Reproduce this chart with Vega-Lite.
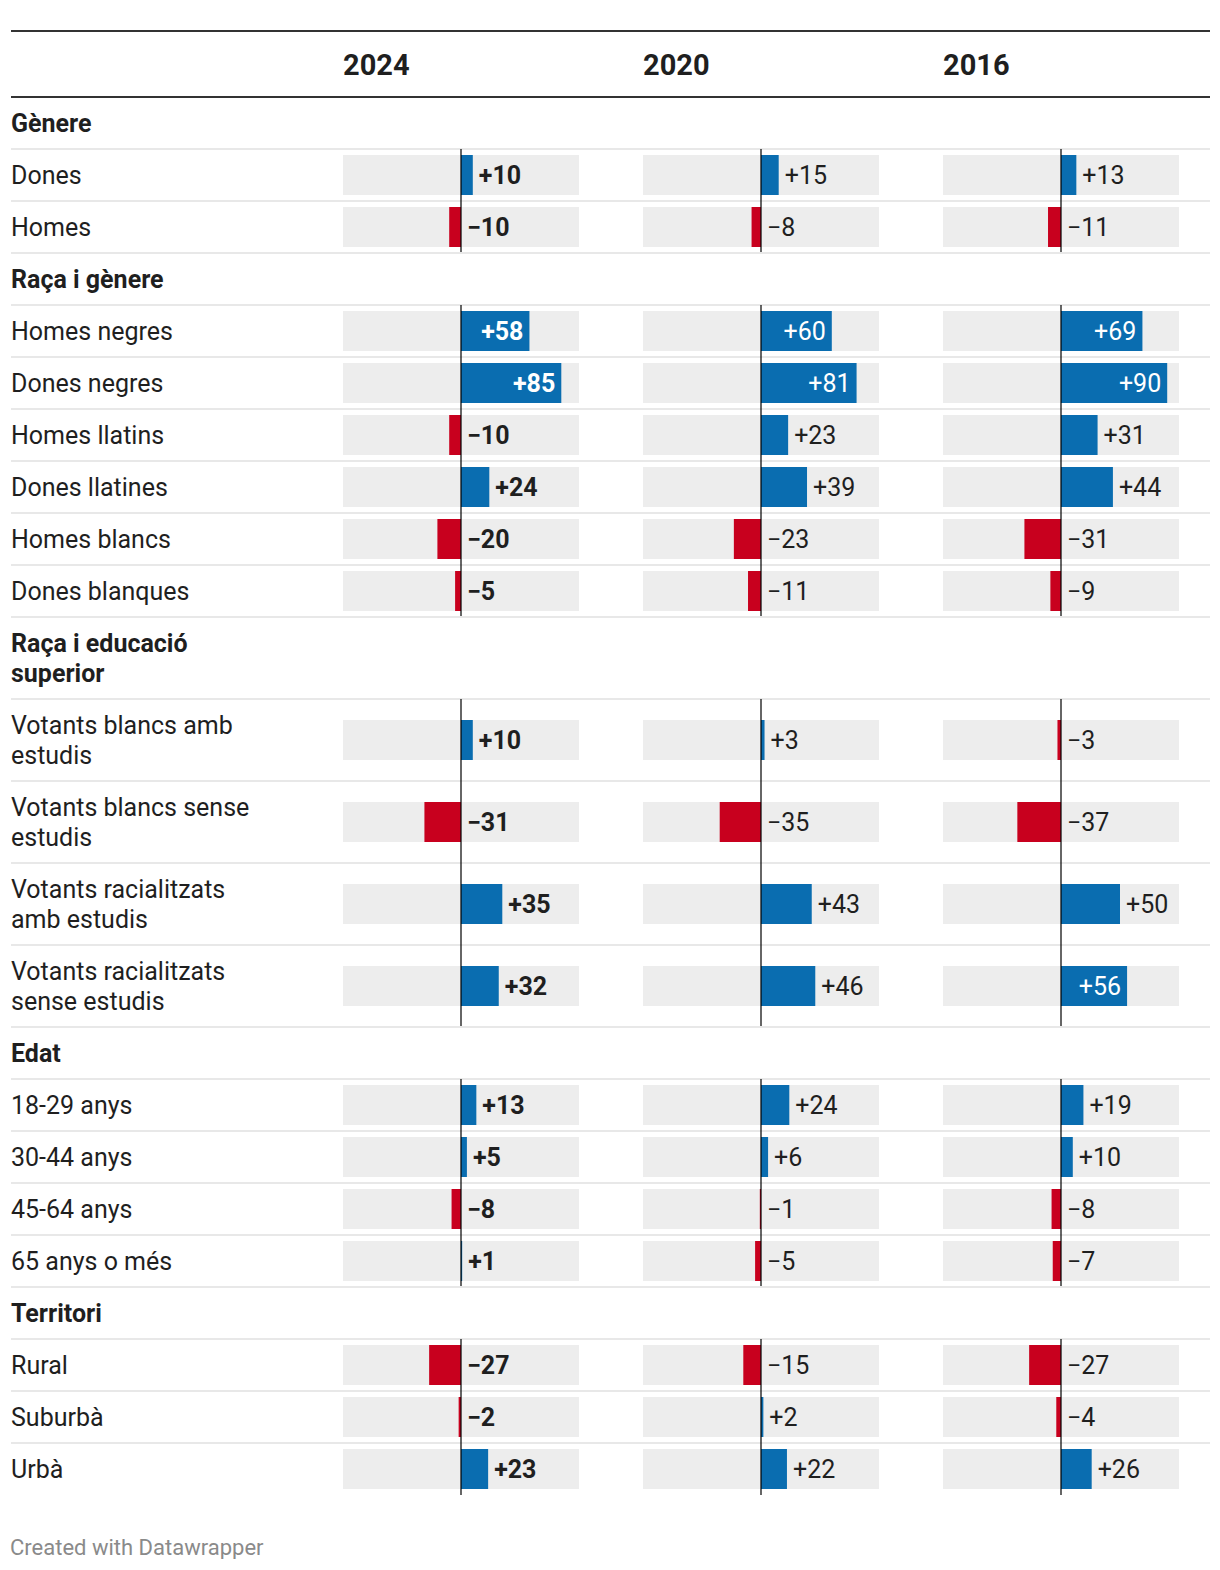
{
"$schema":"https://vega.github.io/schema/vega-lite/v6.json",
"padding":{"left":10,"top":30,"right":0,"bottom":0},
"bounds":"flush",
"spacing":0,
"columns":4,
"datasets":{
"t":[
{"s":1,"i":0,"h":true,"label":"Gènere"},
{"s":1,"i":1,"h":false,"label":"Dones","v24":10,"v20":15,"v16":13},
{"s":1,"i":2,"h":false,"label":"Homes","v24":-10,"v20":-8,"v16":-11},
{"s":2,"i":0,"h":true,"label":"Raça i gènere"},
{"s":2,"i":1,"h":false,"label":"Homes negres","v24":58,"v20":60,"v16":69},
{"s":2,"i":2,"h":false,"label":"Dones negres","v24":85,"v20":81,"v16":90},
{"s":2,"i":3,"h":false,"label":"Homes llatins","v24":-10,"v20":23,"v16":31},
{"s":2,"i":4,"h":false,"label":"Dones llatines","v24":24,"v20":39,"v16":44},
{"s":2,"i":5,"h":false,"label":"Homes blancs","v24":-20,"v20":-23,"v16":-31},
{"s":2,"i":6,"h":false,"label":"Dones blanques","v24":-5,"v20":-11,"v16":-9},
{"s":3,"i":0,"h":true,"label":"Raça i educació\nsuperior"},
{"s":3,"i":1,"h":false,"label":"Votants blancs amb\nestudis","v24":10,"v20":3,"v16":-3},
{"s":3,"i":2,"h":false,"label":"Votants blancs sense\nestudis","v24":-31,"v20":-35,"v16":-37},
{"s":3,"i":3,"h":false,"label":"Votants racialitzats\namb estudis","v24":35,"v20":43,"v16":50},
{"s":3,"i":4,"h":false,"label":"Votants racialitzats\nsense estudis","v24":32,"v20":46,"v16":56},
{"s":4,"i":0,"h":true,"label":"Edat"},
{"s":4,"i":1,"h":false,"label":"18-29 anys","v24":13,"v20":24,"v16":19},
{"s":4,"i":2,"h":false,"label":"30-44 anys","v24":5,"v20":6,"v16":10},
{"s":4,"i":3,"h":false,"label":"45-64 anys","v24":-8,"v20":-1,"v16":-8},
{"s":4,"i":4,"h":false,"label":"65 anys o més","v24":1,"v20":-5,"v16":-7},
{"s":5,"i":0,"h":true,"label":"Territori"},
{"s":5,"i":1,"h":false,"label":"Rural","v24":-27,"v20":-15,"v16":-27},
{"s":5,"i":2,"h":false,"label":"Suburbà","v24":-2,"v20":2,"v16":-4},
{"s":5,"i":3,"h":false,"label":"Urbà","v24":23,"v20":22,"v16":26}
],
"yrs":[{"year":"2024"},{"year":"2020"},{"year":"2016"}]
},
"title":{"text":"Created with Datawrapper","orient":"bottom","anchor":"start","fontSize":22,"fontWeight":"normal","color":"#8a8a8a","font":"Roboto","offset":43,"baseline":"top"},
"concat":[
{"width":332,"height":66,"data":{"name":"yrs"},"transform":[{"filter":"datum.year=='2024'"}],"layer":[
{"mark":{"type":"rule","color":"#333333","strokeWidth":2},"encoding":{"y":{"datum":1,"type":"quantitative","scale":{"domain":[0,1]},"axis":null}}},
{"mark":{"type":"rule","color":"#333333","strokeWidth":2},"encoding":{"y":{"datum":0,"type":"quantitative","axis":null}}}]},
{"width":300,"height":66,"data":{"name":"yrs"},"transform":[{"filter":"datum.year=='2024'"}],"layer":[
{"mark":{"type":"rule","color":"#333333","strokeWidth":2},"encoding":{"y":{"datum":1,"type":"quantitative","scale":{"domain":[0,1]},"axis":null}}},
{"mark":{"type":"rule","color":"#333333","strokeWidth":2},"encoding":{"y":{"datum":0,"type":"quantitative","axis":null}}},
{"mark":{"type":"text","align":"left","fontWeight":"bold","fontSize":29,"dy":2},"encoding":{"x":{"datum":-100,"type":"quantitative","scale":{"domain":[-100,100],"range":[0,236]},"axis":null},"y":{"datum":0.5,"type":"quantitative","axis":null},"text":{"field":"year"}}}]},
{"width":300,"height":66,"data":{"name":"yrs"},"transform":[{"filter":"datum.year=='2020'"}],"layer":[
{"mark":{"type":"rule","color":"#333333","strokeWidth":2},"encoding":{"y":{"datum":1,"type":"quantitative","scale":{"domain":[0,1]},"axis":null}}},
{"mark":{"type":"rule","color":"#333333","strokeWidth":2},"encoding":{"y":{"datum":0,"type":"quantitative","axis":null}}},
{"mark":{"type":"text","align":"left","fontWeight":"bold","fontSize":29,"dy":2},"encoding":{"x":{"datum":-100,"type":"quantitative","scale":{"domain":[-100,100],"range":[0,236]},"axis":null},"y":{"datum":0.5,"type":"quantitative","axis":null},"text":{"field":"year"}}}]},
{"width":267,"height":66,"data":{"name":"yrs"},"transform":[{"filter":"datum.year=='2016'"}],"layer":[
{"mark":{"type":"rule","color":"#333333","strokeWidth":2},"encoding":{"y":{"datum":1,"type":"quantitative","scale":{"domain":[0,1]},"axis":null}}},
{"mark":{"type":"rule","color":"#333333","strokeWidth":2},"encoding":{"y":{"datum":0,"type":"quantitative","axis":null}}},
{"mark":{"type":"text","align":"left","fontWeight":"bold","fontSize":29,"dy":2},"encoding":{"x":{"datum":-100,"type":"quantitative","scale":{"domain":[-100,100],"range":[0,236]},"axis":null},"y":{"datum":0.5,"type":"quantitative","axis":null},"text":{"field":"year"}}}]},

{"width":332,"height":156,"data":{"name":"t"},"transform":[{"filter":"datum.s==1"}],"encoding":{"y":{"field":"i","type":"ordinal","scale":{"type":"band","paddingInner":0,"paddingOuter":0},"axis":null}},"layer":[
{"mark":{"type":"rule","color":"#e8e8e8","strokeWidth":2},"encoding":{"y":{"field":"i","type":"ordinal","bandPosition":0,"scale":{"type":"band","paddingInner":0,"paddingOuter":0},"axis":null},"strokeOpacity":{"condition":{"test":"datum.s==1&&datum.i==0","value":0},"value":1}}},
{"transform":[{"filter":"datum.h"}],"mark":{"type":"text","align":"left","fontWeight":"bold","lineBreak":"\n","lineHeight":30},"encoding":{"x":{"datum":0,"type":"quantitative","scale":{"domain":[0,1]},"axis":null},"text":{"field":"label"}}},
{"transform":[{"filter":"!datum.h"}],"mark":{"type":"text","align":"left","lineBreak":"\n","lineHeight":30},"encoding":{"x":{"datum":0,"type":"quantitative","axis":null},"text":{"field":"label"}}}]},
{"width":300,"height":156,"data":{"name":"t"},"transform":[{"filter":"datum.s==1"}],"encoding":{"y":{"field":"i","type":"ordinal","scale":{"type":"band","paddingInner":0,"paddingOuter":0},"axis":null}},"layer":[
{"mark":{"type":"rule","color":"#e8e8e8","strokeWidth":2},"encoding":{"y":{"field":"i","type":"ordinal","bandPosition":0,"scale":{"type":"band","paddingInner":0,"paddingOuter":0},"axis":null},"strokeOpacity":{"condition":{"test":"datum.s==1&&datum.i==0","value":0},"value":1}}},
{"transform":[{"filter":"!datum.h"}],"mark":{"type":"bar","color":"#ededed","height":40},"encoding":{"x":{"datum":-100,"type":"quantitative","scale":{"domain":[-100,100],"range":[0,236]},"axis":null},"x2":{"datum":100}}},
{"transform":[{"filter":"!datum.h"}],"mark":{"type":"bar","height":40},"encoding":{"x":{"field":"v24","type":"quantitative","axis":null},"color":{"condition":{"test":"datum.v24>0","value":"#0a6db0"},"value":"#c8001e"}}},
{"transform":[{"filter":"!datum.h"}],"mark":{"type":"tick","orient":"vertical","color":"#000000","opacity":0.6,"thickness":2,"size":52},"encoding":{"x":{"datum":0,"type":"quantitative","axis":null}}},
{"transform":[{"filter":"datum.v24>52"}],"mark":{"type":"text","align":"right","dx":-6,"color":"#ffffff","fontWeight":"bold"},"encoding":{"x":{"field":"v24","type":"quantitative","axis":null},"text":{"field":"v24","type":"quantitative","format":"+d"}}},
{"transform":[{"filter":"datum.v24>0&&datum.v24<=52"}],"mark":{"type":"text","align":"left","dx":6,"fontWeight":"bold"},"encoding":{"x":{"field":"v24","type":"quantitative","axis":null},"text":{"field":"v24","type":"quantitative","format":"+d"}}},
{"transform":[{"filter":"datum.v24<=0"}],"mark":{"type":"text","align":"left","dx":6,"fontWeight":"bold"},"encoding":{"x":{"datum":0,"type":"quantitative","axis":null},"text":{"field":"v24","type":"quantitative","format":"+d"}}}]},
{"width":300,"height":156,"data":{"name":"t"},"transform":[{"filter":"datum.s==1"}],"encoding":{"y":{"field":"i","type":"ordinal","scale":{"type":"band","paddingInner":0,"paddingOuter":0},"axis":null}},"layer":[
{"mark":{"type":"rule","color":"#e8e8e8","strokeWidth":2},"encoding":{"y":{"field":"i","type":"ordinal","bandPosition":0,"scale":{"type":"band","paddingInner":0,"paddingOuter":0},"axis":null},"strokeOpacity":{"condition":{"test":"datum.s==1&&datum.i==0","value":0},"value":1}}},
{"transform":[{"filter":"!datum.h"}],"mark":{"type":"bar","color":"#ededed","height":40},"encoding":{"x":{"datum":-100,"type":"quantitative","scale":{"domain":[-100,100],"range":[0,236]},"axis":null},"x2":{"datum":100}}},
{"transform":[{"filter":"!datum.h"}],"mark":{"type":"bar","height":40},"encoding":{"x":{"field":"v20","type":"quantitative","axis":null},"color":{"condition":{"test":"datum.v20>0","value":"#0a6db0"},"value":"#c8001e"}}},
{"transform":[{"filter":"!datum.h"}],"mark":{"type":"tick","orient":"vertical","color":"#000000","opacity":0.6,"thickness":2,"size":52},"encoding":{"x":{"datum":0,"type":"quantitative","axis":null}}},
{"transform":[{"filter":"datum.v20>52"}],"mark":{"type":"text","align":"right","dx":-6,"color":"#ffffff"},"encoding":{"x":{"field":"v20","type":"quantitative","axis":null},"text":{"field":"v20","type":"quantitative","format":"+d"}}},
{"transform":[{"filter":"datum.v20>0&&datum.v20<=52"}],"mark":{"type":"text","align":"left","dx":6},"encoding":{"x":{"field":"v20","type":"quantitative","axis":null},"text":{"field":"v20","type":"quantitative","format":"+d"}}},
{"transform":[{"filter":"datum.v20<=0"}],"mark":{"type":"text","align":"left","dx":6},"encoding":{"x":{"datum":0,"type":"quantitative","axis":null},"text":{"field":"v20","type":"quantitative","format":"+d"}}}]},
{"width":267,"height":156,"data":{"name":"t"},"transform":[{"filter":"datum.s==1"}],"encoding":{"y":{"field":"i","type":"ordinal","scale":{"type":"band","paddingInner":0,"paddingOuter":0},"axis":null}},"layer":[
{"mark":{"type":"rule","color":"#e8e8e8","strokeWidth":2},"encoding":{"y":{"field":"i","type":"ordinal","bandPosition":0,"scale":{"type":"band","paddingInner":0,"paddingOuter":0},"axis":null},"strokeOpacity":{"condition":{"test":"datum.s==1&&datum.i==0","value":0},"value":1}}},
{"transform":[{"filter":"!datum.h"}],"mark":{"type":"bar","color":"#ededed","height":40},"encoding":{"x":{"datum":-100,"type":"quantitative","scale":{"domain":[-100,100],"range":[0,236]},"axis":null},"x2":{"datum":100}}},
{"transform":[{"filter":"!datum.h"}],"mark":{"type":"bar","height":40},"encoding":{"x":{"field":"v16","type":"quantitative","axis":null},"color":{"condition":{"test":"datum.v16>0","value":"#0a6db0"},"value":"#c8001e"}}},
{"transform":[{"filter":"!datum.h"}],"mark":{"type":"tick","orient":"vertical","color":"#000000","opacity":0.6,"thickness":2,"size":52},"encoding":{"x":{"datum":0,"type":"quantitative","axis":null}}},
{"transform":[{"filter":"datum.v16>52"}],"mark":{"type":"text","align":"right","dx":-6,"color":"#ffffff"},"encoding":{"x":{"field":"v16","type":"quantitative","axis":null},"text":{"field":"v16","type":"quantitative","format":"+d"}}},
{"transform":[{"filter":"datum.v16>0&&datum.v16<=52"}],"mark":{"type":"text","align":"left","dx":6},"encoding":{"x":{"field":"v16","type":"quantitative","axis":null},"text":{"field":"v16","type":"quantitative","format":"+d"}}},
{"transform":[{"filter":"datum.v16<=0"}],"mark":{"type":"text","align":"left","dx":6},"encoding":{"x":{"datum":0,"type":"quantitative","axis":null},"text":{"field":"v16","type":"quantitative","format":"+d"}}}]},

{"width":332,"height":364,"data":{"name":"t"},"transform":[{"filter":"datum.s==2"}],"encoding":{"y":{"field":"i","type":"ordinal","scale":{"type":"band","paddingInner":0,"paddingOuter":0},"axis":null}},"layer":[
{"mark":{"type":"rule","color":"#e8e8e8","strokeWidth":2},"encoding":{"y":{"field":"i","type":"ordinal","bandPosition":0,"scale":{"type":"band","paddingInner":0,"paddingOuter":0},"axis":null},"strokeOpacity":{"condition":{"test":"datum.s==1&&datum.i==0","value":0},"value":1}}},
{"transform":[{"filter":"datum.h"}],"mark":{"type":"text","align":"left","fontWeight":"bold","lineBreak":"\n","lineHeight":30},"encoding":{"x":{"datum":0,"type":"quantitative","scale":{"domain":[0,1]},"axis":null},"text":{"field":"label"}}},
{"transform":[{"filter":"!datum.h"}],"mark":{"type":"text","align":"left","lineBreak":"\n","lineHeight":30},"encoding":{"x":{"datum":0,"type":"quantitative","axis":null},"text":{"field":"label"}}}]},
{"width":300,"height":364,"data":{"name":"t"},"transform":[{"filter":"datum.s==2"}],"encoding":{"y":{"field":"i","type":"ordinal","scale":{"type":"band","paddingInner":0,"paddingOuter":0},"axis":null}},"layer":[
{"mark":{"type":"rule","color":"#e8e8e8","strokeWidth":2},"encoding":{"y":{"field":"i","type":"ordinal","bandPosition":0,"scale":{"type":"band","paddingInner":0,"paddingOuter":0},"axis":null},"strokeOpacity":{"condition":{"test":"datum.s==1&&datum.i==0","value":0},"value":1}}},
{"transform":[{"filter":"!datum.h"}],"mark":{"type":"bar","color":"#ededed","height":40},"encoding":{"x":{"datum":-100,"type":"quantitative","scale":{"domain":[-100,100],"range":[0,236]},"axis":null},"x2":{"datum":100}}},
{"transform":[{"filter":"!datum.h"}],"mark":{"type":"bar","height":40},"encoding":{"x":{"field":"v24","type":"quantitative","axis":null},"color":{"condition":{"test":"datum.v24>0","value":"#0a6db0"},"value":"#c8001e"}}},
{"transform":[{"filter":"!datum.h"}],"mark":{"type":"tick","orient":"vertical","color":"#000000","opacity":0.6,"thickness":2,"size":52},"encoding":{"x":{"datum":0,"type":"quantitative","axis":null}}},
{"transform":[{"filter":"datum.v24>52"}],"mark":{"type":"text","align":"right","dx":-6,"color":"#ffffff","fontWeight":"bold"},"encoding":{"x":{"field":"v24","type":"quantitative","axis":null},"text":{"field":"v24","type":"quantitative","format":"+d"}}},
{"transform":[{"filter":"datum.v24>0&&datum.v24<=52"}],"mark":{"type":"text","align":"left","dx":6,"fontWeight":"bold"},"encoding":{"x":{"field":"v24","type":"quantitative","axis":null},"text":{"field":"v24","type":"quantitative","format":"+d"}}},
{"transform":[{"filter":"datum.v24<=0"}],"mark":{"type":"text","align":"left","dx":6,"fontWeight":"bold"},"encoding":{"x":{"datum":0,"type":"quantitative","axis":null},"text":{"field":"v24","type":"quantitative","format":"+d"}}}]},
{"width":300,"height":364,"data":{"name":"t"},"transform":[{"filter":"datum.s==2"}],"encoding":{"y":{"field":"i","type":"ordinal","scale":{"type":"band","paddingInner":0,"paddingOuter":0},"axis":null}},"layer":[
{"mark":{"type":"rule","color":"#e8e8e8","strokeWidth":2},"encoding":{"y":{"field":"i","type":"ordinal","bandPosition":0,"scale":{"type":"band","paddingInner":0,"paddingOuter":0},"axis":null},"strokeOpacity":{"condition":{"test":"datum.s==1&&datum.i==0","value":0},"value":1}}},
{"transform":[{"filter":"!datum.h"}],"mark":{"type":"bar","color":"#ededed","height":40},"encoding":{"x":{"datum":-100,"type":"quantitative","scale":{"domain":[-100,100],"range":[0,236]},"axis":null},"x2":{"datum":100}}},
{"transform":[{"filter":"!datum.h"}],"mark":{"type":"bar","height":40},"encoding":{"x":{"field":"v20","type":"quantitative","axis":null},"color":{"condition":{"test":"datum.v20>0","value":"#0a6db0"},"value":"#c8001e"}}},
{"transform":[{"filter":"!datum.h"}],"mark":{"type":"tick","orient":"vertical","color":"#000000","opacity":0.6,"thickness":2,"size":52},"encoding":{"x":{"datum":0,"type":"quantitative","axis":null}}},
{"transform":[{"filter":"datum.v20>52"}],"mark":{"type":"text","align":"right","dx":-6,"color":"#ffffff"},"encoding":{"x":{"field":"v20","type":"quantitative","axis":null},"text":{"field":"v20","type":"quantitative","format":"+d"}}},
{"transform":[{"filter":"datum.v20>0&&datum.v20<=52"}],"mark":{"type":"text","align":"left","dx":6},"encoding":{"x":{"field":"v20","type":"quantitative","axis":null},"text":{"field":"v20","type":"quantitative","format":"+d"}}},
{"transform":[{"filter":"datum.v20<=0"}],"mark":{"type":"text","align":"left","dx":6},"encoding":{"x":{"datum":0,"type":"quantitative","axis":null},"text":{"field":"v20","type":"quantitative","format":"+d"}}}]},
{"width":267,"height":364,"data":{"name":"t"},"transform":[{"filter":"datum.s==2"}],"encoding":{"y":{"field":"i","type":"ordinal","scale":{"type":"band","paddingInner":0,"paddingOuter":0},"axis":null}},"layer":[
{"mark":{"type":"rule","color":"#e8e8e8","strokeWidth":2},"encoding":{"y":{"field":"i","type":"ordinal","bandPosition":0,"scale":{"type":"band","paddingInner":0,"paddingOuter":0},"axis":null},"strokeOpacity":{"condition":{"test":"datum.s==1&&datum.i==0","value":0},"value":1}}},
{"transform":[{"filter":"!datum.h"}],"mark":{"type":"bar","color":"#ededed","height":40},"encoding":{"x":{"datum":-100,"type":"quantitative","scale":{"domain":[-100,100],"range":[0,236]},"axis":null},"x2":{"datum":100}}},
{"transform":[{"filter":"!datum.h"}],"mark":{"type":"bar","height":40},"encoding":{"x":{"field":"v16","type":"quantitative","axis":null},"color":{"condition":{"test":"datum.v16>0","value":"#0a6db0"},"value":"#c8001e"}}},
{"transform":[{"filter":"!datum.h"}],"mark":{"type":"tick","orient":"vertical","color":"#000000","opacity":0.6,"thickness":2,"size":52},"encoding":{"x":{"datum":0,"type":"quantitative","axis":null}}},
{"transform":[{"filter":"datum.v16>52"}],"mark":{"type":"text","align":"right","dx":-6,"color":"#ffffff"},"encoding":{"x":{"field":"v16","type":"quantitative","axis":null},"text":{"field":"v16","type":"quantitative","format":"+d"}}},
{"transform":[{"filter":"datum.v16>0&&datum.v16<=52"}],"mark":{"type":"text","align":"left","dx":6},"encoding":{"x":{"field":"v16","type":"quantitative","axis":null},"text":{"field":"v16","type":"quantitative","format":"+d"}}},
{"transform":[{"filter":"datum.v16<=0"}],"mark":{"type":"text","align":"left","dx":6},"encoding":{"x":{"datum":0,"type":"quantitative","axis":null},"text":{"field":"v16","type":"quantitative","format":"+d"}}}]},

{"width":332,"height":410,"data":{"name":"t"},"transform":[{"filter":"datum.s==3"}],"encoding":{"y":{"field":"i","type":"ordinal","scale":{"type":"band","paddingInner":0,"paddingOuter":0},"axis":null}},"layer":[
{"mark":{"type":"rule","color":"#e8e8e8","strokeWidth":2},"encoding":{"y":{"field":"i","type":"ordinal","bandPosition":0,"scale":{"type":"band","paddingInner":0,"paddingOuter":0},"axis":null},"strokeOpacity":{"condition":{"test":"datum.s==1&&datum.i==0","value":0},"value":1}}},
{"transform":[{"filter":"datum.h"}],"mark":{"type":"text","align":"left","fontWeight":"bold","lineBreak":"\n","lineHeight":30,"dy":-14},"encoding":{"x":{"datum":0,"type":"quantitative","scale":{"domain":[0,1]},"axis":null},"text":{"field":"label"}}},
{"transform":[{"filter":"!datum.h"}],"mark":{"type":"text","align":"left","lineBreak":"\n","lineHeight":30,"dy":-14},"encoding":{"x":{"datum":0,"type":"quantitative","axis":null},"text":{"field":"label"}}}]},
{"width":300,"height":410,"data":{"name":"t"},"transform":[{"filter":"datum.s==3"}],"encoding":{"y":{"field":"i","type":"ordinal","scale":{"type":"band","paddingInner":0,"paddingOuter":0},"axis":null}},"layer":[
{"mark":{"type":"rule","color":"#e8e8e8","strokeWidth":2},"encoding":{"y":{"field":"i","type":"ordinal","bandPosition":0,"scale":{"type":"band","paddingInner":0,"paddingOuter":0},"axis":null},"strokeOpacity":{"condition":{"test":"datum.s==1&&datum.i==0","value":0},"value":1}}},
{"transform":[{"filter":"!datum.h"}],"mark":{"type":"bar","color":"#ededed","height":40},"encoding":{"x":{"datum":-100,"type":"quantitative","scale":{"domain":[-100,100],"range":[0,236]},"axis":null},"x2":{"datum":100}}},
{"transform":[{"filter":"!datum.h"}],"mark":{"type":"bar","height":40},"encoding":{"x":{"field":"v24","type":"quantitative","axis":null},"color":{"condition":{"test":"datum.v24>0","value":"#0a6db0"},"value":"#c8001e"}}},
{"transform":[{"filter":"!datum.h"}],"mark":{"type":"tick","orient":"vertical","color":"#000000","opacity":0.6,"thickness":2,"size":82},"encoding":{"x":{"datum":0,"type":"quantitative","axis":null}}},
{"transform":[{"filter":"datum.v24>52"}],"mark":{"type":"text","align":"right","dx":-6,"color":"#ffffff","fontWeight":"bold"},"encoding":{"x":{"field":"v24","type":"quantitative","axis":null},"text":{"field":"v24","type":"quantitative","format":"+d"}}},
{"transform":[{"filter":"datum.v24>0&&datum.v24<=52"}],"mark":{"type":"text","align":"left","dx":6,"fontWeight":"bold"},"encoding":{"x":{"field":"v24","type":"quantitative","axis":null},"text":{"field":"v24","type":"quantitative","format":"+d"}}},
{"transform":[{"filter":"datum.v24<=0"}],"mark":{"type":"text","align":"left","dx":6,"fontWeight":"bold"},"encoding":{"x":{"datum":0,"type":"quantitative","axis":null},"text":{"field":"v24","type":"quantitative","format":"+d"}}}]},
{"width":300,"height":410,"data":{"name":"t"},"transform":[{"filter":"datum.s==3"}],"encoding":{"y":{"field":"i","type":"ordinal","scale":{"type":"band","paddingInner":0,"paddingOuter":0},"axis":null}},"layer":[
{"mark":{"type":"rule","color":"#e8e8e8","strokeWidth":2},"encoding":{"y":{"field":"i","type":"ordinal","bandPosition":0,"scale":{"type":"band","paddingInner":0,"paddingOuter":0},"axis":null},"strokeOpacity":{"condition":{"test":"datum.s==1&&datum.i==0","value":0},"value":1}}},
{"transform":[{"filter":"!datum.h"}],"mark":{"type":"bar","color":"#ededed","height":40},"encoding":{"x":{"datum":-100,"type":"quantitative","scale":{"domain":[-100,100],"range":[0,236]},"axis":null},"x2":{"datum":100}}},
{"transform":[{"filter":"!datum.h"}],"mark":{"type":"bar","height":40},"encoding":{"x":{"field":"v20","type":"quantitative","axis":null},"color":{"condition":{"test":"datum.v20>0","value":"#0a6db0"},"value":"#c8001e"}}},
{"transform":[{"filter":"!datum.h"}],"mark":{"type":"tick","orient":"vertical","color":"#000000","opacity":0.6,"thickness":2,"size":82},"encoding":{"x":{"datum":0,"type":"quantitative","axis":null}}},
{"transform":[{"filter":"datum.v20>52"}],"mark":{"type":"text","align":"right","dx":-6,"color":"#ffffff"},"encoding":{"x":{"field":"v20","type":"quantitative","axis":null},"text":{"field":"v20","type":"quantitative","format":"+d"}}},
{"transform":[{"filter":"datum.v20>0&&datum.v20<=52"}],"mark":{"type":"text","align":"left","dx":6},"encoding":{"x":{"field":"v20","type":"quantitative","axis":null},"text":{"field":"v20","type":"quantitative","format":"+d"}}},
{"transform":[{"filter":"datum.v20<=0"}],"mark":{"type":"text","align":"left","dx":6},"encoding":{"x":{"datum":0,"type":"quantitative","axis":null},"text":{"field":"v20","type":"quantitative","format":"+d"}}}]},
{"width":267,"height":410,"data":{"name":"t"},"transform":[{"filter":"datum.s==3"}],"encoding":{"y":{"field":"i","type":"ordinal","scale":{"type":"band","paddingInner":0,"paddingOuter":0},"axis":null}},"layer":[
{"mark":{"type":"rule","color":"#e8e8e8","strokeWidth":2},"encoding":{"y":{"field":"i","type":"ordinal","bandPosition":0,"scale":{"type":"band","paddingInner":0,"paddingOuter":0},"axis":null},"strokeOpacity":{"condition":{"test":"datum.s==1&&datum.i==0","value":0},"value":1}}},
{"transform":[{"filter":"!datum.h"}],"mark":{"type":"bar","color":"#ededed","height":40},"encoding":{"x":{"datum":-100,"type":"quantitative","scale":{"domain":[-100,100],"range":[0,236]},"axis":null},"x2":{"datum":100}}},
{"transform":[{"filter":"!datum.h"}],"mark":{"type":"bar","height":40},"encoding":{"x":{"field":"v16","type":"quantitative","axis":null},"color":{"condition":{"test":"datum.v16>0","value":"#0a6db0"},"value":"#c8001e"}}},
{"transform":[{"filter":"!datum.h"}],"mark":{"type":"tick","orient":"vertical","color":"#000000","opacity":0.6,"thickness":2,"size":82},"encoding":{"x":{"datum":0,"type":"quantitative","axis":null}}},
{"transform":[{"filter":"datum.v16>52"}],"mark":{"type":"text","align":"right","dx":-6,"color":"#ffffff"},"encoding":{"x":{"field":"v16","type":"quantitative","axis":null},"text":{"field":"v16","type":"quantitative","format":"+d"}}},
{"transform":[{"filter":"datum.v16>0&&datum.v16<=52"}],"mark":{"type":"text","align":"left","dx":6},"encoding":{"x":{"field":"v16","type":"quantitative","axis":null},"text":{"field":"v16","type":"quantitative","format":"+d"}}},
{"transform":[{"filter":"datum.v16<=0"}],"mark":{"type":"text","align":"left","dx":6},"encoding":{"x":{"datum":0,"type":"quantitative","axis":null},"text":{"field":"v16","type":"quantitative","format":"+d"}}}]},

{"width":332,"height":260,"data":{"name":"t"},"transform":[{"filter":"datum.s==4"}],"encoding":{"y":{"field":"i","type":"ordinal","scale":{"type":"band","paddingInner":0,"paddingOuter":0},"axis":null}},"layer":[
{"mark":{"type":"rule","color":"#e8e8e8","strokeWidth":2},"encoding":{"y":{"field":"i","type":"ordinal","bandPosition":0,"scale":{"type":"band","paddingInner":0,"paddingOuter":0},"axis":null},"strokeOpacity":{"condition":{"test":"datum.s==1&&datum.i==0","value":0},"value":1}}},
{"transform":[{"filter":"datum.h"}],"mark":{"type":"text","align":"left","fontWeight":"bold","lineBreak":"\n","lineHeight":30},"encoding":{"x":{"datum":0,"type":"quantitative","scale":{"domain":[0,1]},"axis":null},"text":{"field":"label"}}},
{"transform":[{"filter":"!datum.h"}],"mark":{"type":"text","align":"left","lineBreak":"\n","lineHeight":30},"encoding":{"x":{"datum":0,"type":"quantitative","axis":null},"text":{"field":"label"}}}]},
{"width":300,"height":260,"data":{"name":"t"},"transform":[{"filter":"datum.s==4"}],"encoding":{"y":{"field":"i","type":"ordinal","scale":{"type":"band","paddingInner":0,"paddingOuter":0},"axis":null}},"layer":[
{"mark":{"type":"rule","color":"#e8e8e8","strokeWidth":2},"encoding":{"y":{"field":"i","type":"ordinal","bandPosition":0,"scale":{"type":"band","paddingInner":0,"paddingOuter":0},"axis":null},"strokeOpacity":{"condition":{"test":"datum.s==1&&datum.i==0","value":0},"value":1}}},
{"transform":[{"filter":"!datum.h"}],"mark":{"type":"bar","color":"#ededed","height":40},"encoding":{"x":{"datum":-100,"type":"quantitative","scale":{"domain":[-100,100],"range":[0,236]},"axis":null},"x2":{"datum":100}}},
{"transform":[{"filter":"!datum.h"}],"mark":{"type":"bar","height":40},"encoding":{"x":{"field":"v24","type":"quantitative","axis":null},"color":{"condition":{"test":"datum.v24>0","value":"#0a6db0"},"value":"#c8001e"}}},
{"transform":[{"filter":"!datum.h"}],"mark":{"type":"tick","orient":"vertical","color":"#000000","opacity":0.6,"thickness":2,"size":52},"encoding":{"x":{"datum":0,"type":"quantitative","axis":null}}},
{"transform":[{"filter":"datum.v24>52"}],"mark":{"type":"text","align":"right","dx":-6,"color":"#ffffff","fontWeight":"bold"},"encoding":{"x":{"field":"v24","type":"quantitative","axis":null},"text":{"field":"v24","type":"quantitative","format":"+d"}}},
{"transform":[{"filter":"datum.v24>0&&datum.v24<=52"}],"mark":{"type":"text","align":"left","dx":6,"fontWeight":"bold"},"encoding":{"x":{"field":"v24","type":"quantitative","axis":null},"text":{"field":"v24","type":"quantitative","format":"+d"}}},
{"transform":[{"filter":"datum.v24<=0"}],"mark":{"type":"text","align":"left","dx":6,"fontWeight":"bold"},"encoding":{"x":{"datum":0,"type":"quantitative","axis":null},"text":{"field":"v24","type":"quantitative","format":"+d"}}}]},
{"width":300,"height":260,"data":{"name":"t"},"transform":[{"filter":"datum.s==4"}],"encoding":{"y":{"field":"i","type":"ordinal","scale":{"type":"band","paddingInner":0,"paddingOuter":0},"axis":null}},"layer":[
{"mark":{"type":"rule","color":"#e8e8e8","strokeWidth":2},"encoding":{"y":{"field":"i","type":"ordinal","bandPosition":0,"scale":{"type":"band","paddingInner":0,"paddingOuter":0},"axis":null},"strokeOpacity":{"condition":{"test":"datum.s==1&&datum.i==0","value":0},"value":1}}},
{"transform":[{"filter":"!datum.h"}],"mark":{"type":"bar","color":"#ededed","height":40},"encoding":{"x":{"datum":-100,"type":"quantitative","scale":{"domain":[-100,100],"range":[0,236]},"axis":null},"x2":{"datum":100}}},
{"transform":[{"filter":"!datum.h"}],"mark":{"type":"bar","height":40},"encoding":{"x":{"field":"v20","type":"quantitative","axis":null},"color":{"condition":{"test":"datum.v20>0","value":"#0a6db0"},"value":"#c8001e"}}},
{"transform":[{"filter":"!datum.h"}],"mark":{"type":"tick","orient":"vertical","color":"#000000","opacity":0.6,"thickness":2,"size":52},"encoding":{"x":{"datum":0,"type":"quantitative","axis":null}}},
{"transform":[{"filter":"datum.v20>52"}],"mark":{"type":"text","align":"right","dx":-6,"color":"#ffffff"},"encoding":{"x":{"field":"v20","type":"quantitative","axis":null},"text":{"field":"v20","type":"quantitative","format":"+d"}}},
{"transform":[{"filter":"datum.v20>0&&datum.v20<=52"}],"mark":{"type":"text","align":"left","dx":6},"encoding":{"x":{"field":"v20","type":"quantitative","axis":null},"text":{"field":"v20","type":"quantitative","format":"+d"}}},
{"transform":[{"filter":"datum.v20<=0"}],"mark":{"type":"text","align":"left","dx":6},"encoding":{"x":{"datum":0,"type":"quantitative","axis":null},"text":{"field":"v20","type":"quantitative","format":"+d"}}}]},
{"width":267,"height":260,"data":{"name":"t"},"transform":[{"filter":"datum.s==4"}],"encoding":{"y":{"field":"i","type":"ordinal","scale":{"type":"band","paddingInner":0,"paddingOuter":0},"axis":null}},"layer":[
{"mark":{"type":"rule","color":"#e8e8e8","strokeWidth":2},"encoding":{"y":{"field":"i","type":"ordinal","bandPosition":0,"scale":{"type":"band","paddingInner":0,"paddingOuter":0},"axis":null},"strokeOpacity":{"condition":{"test":"datum.s==1&&datum.i==0","value":0},"value":1}}},
{"transform":[{"filter":"!datum.h"}],"mark":{"type":"bar","color":"#ededed","height":40},"encoding":{"x":{"datum":-100,"type":"quantitative","scale":{"domain":[-100,100],"range":[0,236]},"axis":null},"x2":{"datum":100}}},
{"transform":[{"filter":"!datum.h"}],"mark":{"type":"bar","height":40},"encoding":{"x":{"field":"v16","type":"quantitative","axis":null},"color":{"condition":{"test":"datum.v16>0","value":"#0a6db0"},"value":"#c8001e"}}},
{"transform":[{"filter":"!datum.h"}],"mark":{"type":"tick","orient":"vertical","color":"#000000","opacity":0.6,"thickness":2,"size":52},"encoding":{"x":{"datum":0,"type":"quantitative","axis":null}}},
{"transform":[{"filter":"datum.v16>52"}],"mark":{"type":"text","align":"right","dx":-6,"color":"#ffffff"},"encoding":{"x":{"field":"v16","type":"quantitative","axis":null},"text":{"field":"v16","type":"quantitative","format":"+d"}}},
{"transform":[{"filter":"datum.v16>0&&datum.v16<=52"}],"mark":{"type":"text","align":"left","dx":6},"encoding":{"x":{"field":"v16","type":"quantitative","axis":null},"text":{"field":"v16","type":"quantitative","format":"+d"}}},
{"transform":[{"filter":"datum.v16<=0"}],"mark":{"type":"text","align":"left","dx":6},"encoding":{"x":{"datum":0,"type":"quantitative","axis":null},"text":{"field":"v16","type":"quantitative","format":"+d"}}}]},

{"width":332,"height":208,"data":{"name":"t"},"transform":[{"filter":"datum.s==5"}],"encoding":{"y":{"field":"i","type":"ordinal","scale":{"type":"band","paddingInner":0,"paddingOuter":0},"axis":null}},"layer":[
{"mark":{"type":"rule","color":"#e8e8e8","strokeWidth":2},"encoding":{"y":{"field":"i","type":"ordinal","bandPosition":0,"scale":{"type":"band","paddingInner":0,"paddingOuter":0},"axis":null},"strokeOpacity":{"condition":{"test":"datum.s==1&&datum.i==0","value":0},"value":1}}},
{"transform":[{"filter":"datum.h"}],"mark":{"type":"text","align":"left","fontWeight":"bold","lineBreak":"\n","lineHeight":30},"encoding":{"x":{"datum":0,"type":"quantitative","scale":{"domain":[0,1]},"axis":null},"text":{"field":"label"}}},
{"transform":[{"filter":"!datum.h"}],"mark":{"type":"text","align":"left","lineBreak":"\n","lineHeight":30},"encoding":{"x":{"datum":0,"type":"quantitative","axis":null},"text":{"field":"label"}}}]},
{"width":300,"height":208,"data":{"name":"t"},"transform":[{"filter":"datum.s==5"}],"encoding":{"y":{"field":"i","type":"ordinal","scale":{"type":"band","paddingInner":0,"paddingOuter":0},"axis":null}},"layer":[
{"mark":{"type":"rule","color":"#e8e8e8","strokeWidth":2},"encoding":{"y":{"field":"i","type":"ordinal","bandPosition":0,"scale":{"type":"band","paddingInner":0,"paddingOuter":0},"axis":null},"strokeOpacity":{"condition":{"test":"datum.s==1&&datum.i==0","value":0},"value":1}}},
{"transform":[{"filter":"!datum.h"}],"mark":{"type":"bar","color":"#ededed","height":40},"encoding":{"x":{"datum":-100,"type":"quantitative","scale":{"domain":[-100,100],"range":[0,236]},"axis":null},"x2":{"datum":100}}},
{"transform":[{"filter":"!datum.h"}],"mark":{"type":"bar","height":40},"encoding":{"x":{"field":"v24","type":"quantitative","axis":null},"color":{"condition":{"test":"datum.v24>0","value":"#0a6db0"},"value":"#c8001e"}}},
{"transform":[{"filter":"!datum.h"}],"mark":{"type":"tick","orient":"vertical","color":"#000000","opacity":0.6,"thickness":2,"size":52},"encoding":{"x":{"datum":0,"type":"quantitative","axis":null}}},
{"transform":[{"filter":"datum.v24>52"}],"mark":{"type":"text","align":"right","dx":-6,"color":"#ffffff","fontWeight":"bold"},"encoding":{"x":{"field":"v24","type":"quantitative","axis":null},"text":{"field":"v24","type":"quantitative","format":"+d"}}},
{"transform":[{"filter":"datum.v24>0&&datum.v24<=52"}],"mark":{"type":"text","align":"left","dx":6,"fontWeight":"bold"},"encoding":{"x":{"field":"v24","type":"quantitative","axis":null},"text":{"field":"v24","type":"quantitative","format":"+d"}}},
{"transform":[{"filter":"datum.v24<=0"}],"mark":{"type":"text","align":"left","dx":6,"fontWeight":"bold"},"encoding":{"x":{"datum":0,"type":"quantitative","axis":null},"text":{"field":"v24","type":"quantitative","format":"+d"}}}]},
{"width":300,"height":208,"data":{"name":"t"},"transform":[{"filter":"datum.s==5"}],"encoding":{"y":{"field":"i","type":"ordinal","scale":{"type":"band","paddingInner":0,"paddingOuter":0},"axis":null}},"layer":[
{"mark":{"type":"rule","color":"#e8e8e8","strokeWidth":2},"encoding":{"y":{"field":"i","type":"ordinal","bandPosition":0,"scale":{"type":"band","paddingInner":0,"paddingOuter":0},"axis":null},"strokeOpacity":{"condition":{"test":"datum.s==1&&datum.i==0","value":0},"value":1}}},
{"transform":[{"filter":"!datum.h"}],"mark":{"type":"bar","color":"#ededed","height":40},"encoding":{"x":{"datum":-100,"type":"quantitative","scale":{"domain":[-100,100],"range":[0,236]},"axis":null},"x2":{"datum":100}}},
{"transform":[{"filter":"!datum.h"}],"mark":{"type":"bar","height":40},"encoding":{"x":{"field":"v20","type":"quantitative","axis":null},"color":{"condition":{"test":"datum.v20>0","value":"#0a6db0"},"value":"#c8001e"}}},
{"transform":[{"filter":"!datum.h"}],"mark":{"type":"tick","orient":"vertical","color":"#000000","opacity":0.6,"thickness":2,"size":52},"encoding":{"x":{"datum":0,"type":"quantitative","axis":null}}},
{"transform":[{"filter":"datum.v20>52"}],"mark":{"type":"text","align":"right","dx":-6,"color":"#ffffff"},"encoding":{"x":{"field":"v20","type":"quantitative","axis":null},"text":{"field":"v20","type":"quantitative","format":"+d"}}},
{"transform":[{"filter":"datum.v20>0&&datum.v20<=52"}],"mark":{"type":"text","align":"left","dx":6},"encoding":{"x":{"field":"v20","type":"quantitative","axis":null},"text":{"field":"v20","type":"quantitative","format":"+d"}}},
{"transform":[{"filter":"datum.v20<=0"}],"mark":{"type":"text","align":"left","dx":6},"encoding":{"x":{"datum":0,"type":"quantitative","axis":null},"text":{"field":"v20","type":"quantitative","format":"+d"}}}]},
{"width":267,"height":208,"data":{"name":"t"},"transform":[{"filter":"datum.s==5"}],"encoding":{"y":{"field":"i","type":"ordinal","scale":{"type":"band","paddingInner":0,"paddingOuter":0},"axis":null}},"layer":[
{"mark":{"type":"rule","color":"#e8e8e8","strokeWidth":2},"encoding":{"y":{"field":"i","type":"ordinal","bandPosition":0,"scale":{"type":"band","paddingInner":0,"paddingOuter":0},"axis":null},"strokeOpacity":{"condition":{"test":"datum.s==1&&datum.i==0","value":0},"value":1}}},
{"transform":[{"filter":"!datum.h"}],"mark":{"type":"bar","color":"#ededed","height":40},"encoding":{"x":{"datum":-100,"type":"quantitative","scale":{"domain":[-100,100],"range":[0,236]},"axis":null},"x2":{"datum":100}}},
{"transform":[{"filter":"!datum.h"}],"mark":{"type":"bar","height":40},"encoding":{"x":{"field":"v16","type":"quantitative","axis":null},"color":{"condition":{"test":"datum.v16>0","value":"#0a6db0"},"value":"#c8001e"}}},
{"transform":[{"filter":"!datum.h"}],"mark":{"type":"tick","orient":"vertical","color":"#000000","opacity":0.6,"thickness":2,"size":52},"encoding":{"x":{"datum":0,"type":"quantitative","axis":null}}},
{"transform":[{"filter":"datum.v16>52"}],"mark":{"type":"text","align":"right","dx":-6,"color":"#ffffff"},"encoding":{"x":{"field":"v16","type":"quantitative","axis":null},"text":{"field":"v16","type":"quantitative","format":"+d"}}},
{"transform":[{"filter":"datum.v16>0&&datum.v16<=52"}],"mark":{"type":"text","align":"left","dx":6},"encoding":{"x":{"field":"v16","type":"quantitative","axis":null},"text":{"field":"v16","type":"quantitative","format":"+d"}}},
{"transform":[{"filter":"datum.v16<=0"}],"mark":{"type":"text","align":"left","dx":6},"encoding":{"x":{"datum":0,"type":"quantitative","axis":null},"text":{"field":"v16","type":"quantitative","format":"+d"}}}]}
],
"config":{
"view":{"stroke":null},
"text":{"font":"Roboto","fontSize":25,"color":"#1f1f1f","baseline":"middle","dy":1}
}
}
